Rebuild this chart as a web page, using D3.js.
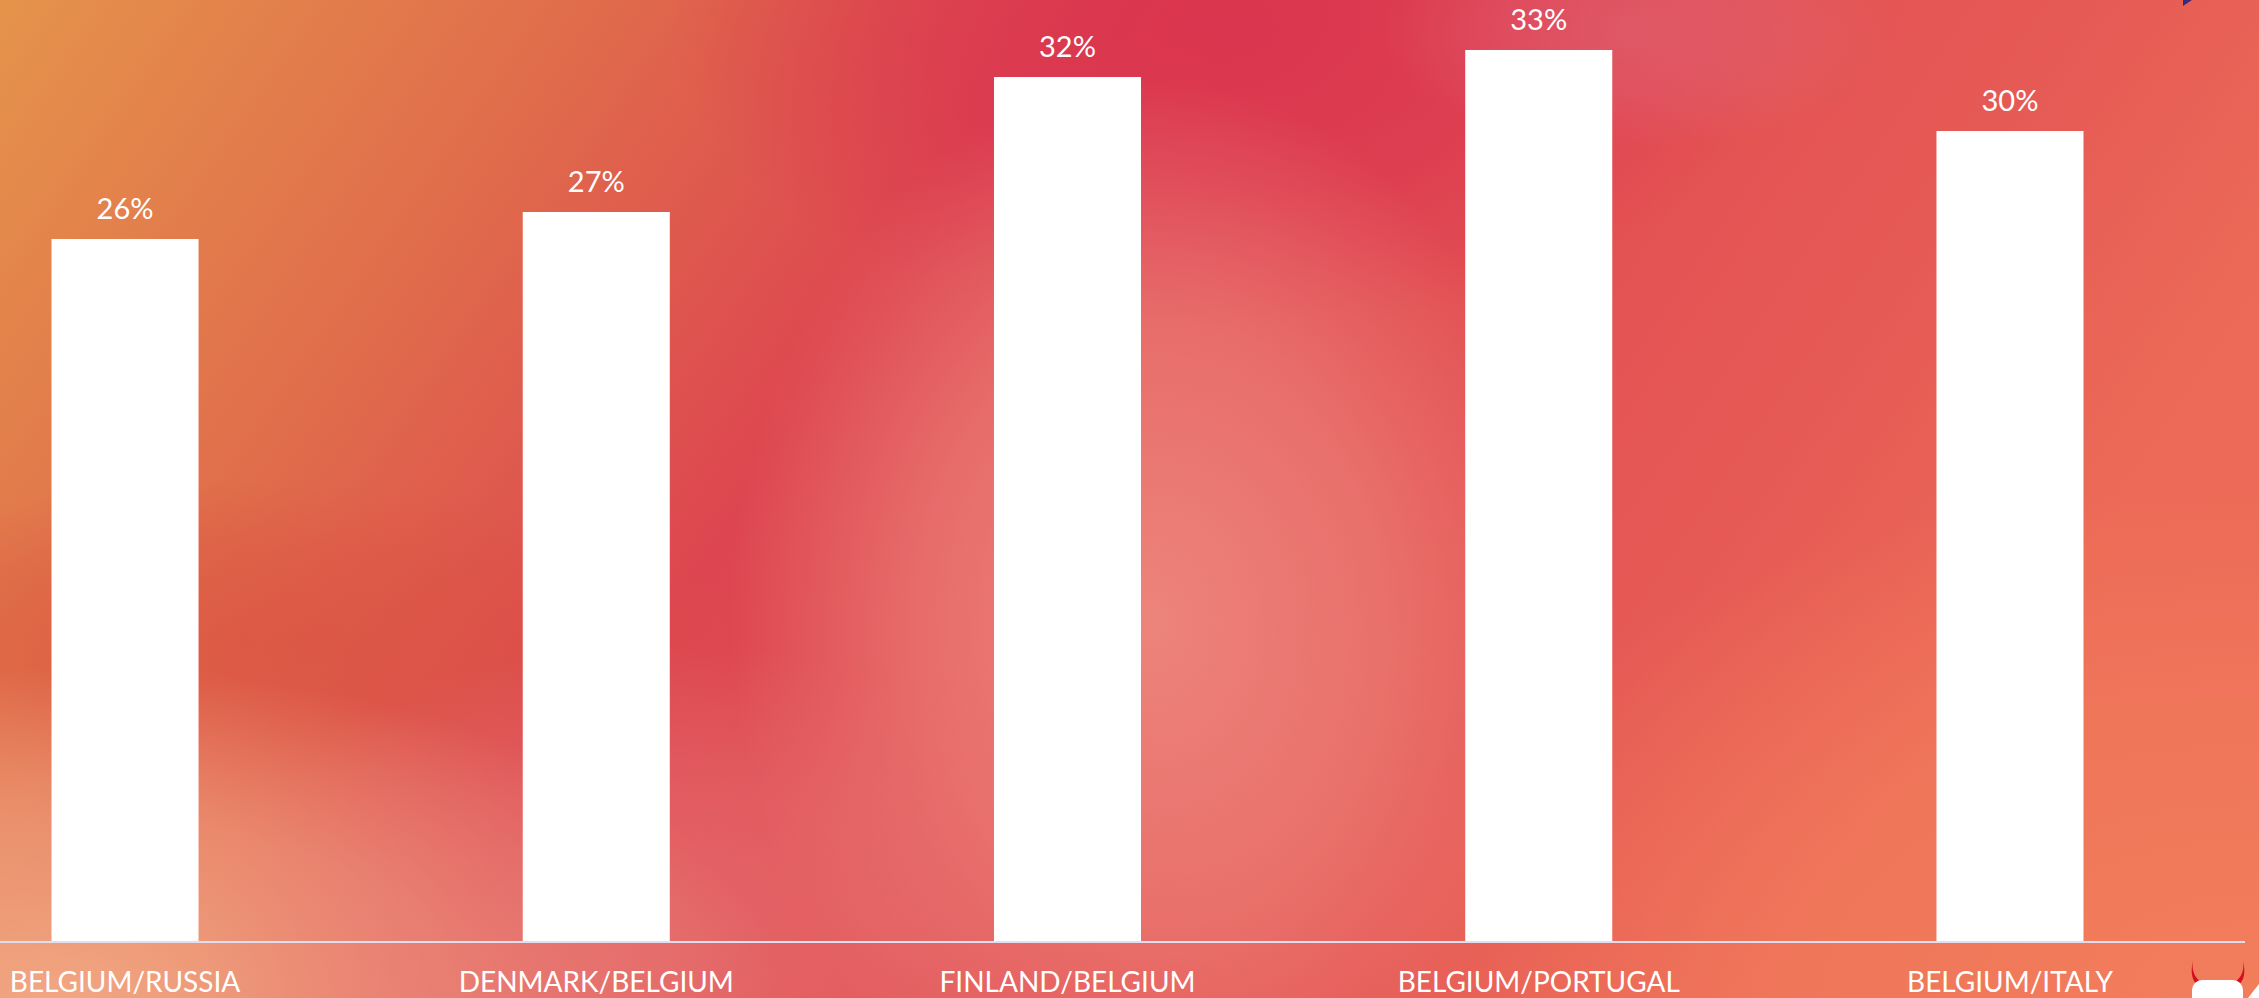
<!DOCTYPE html>
<html>
<head>
<meta charset="utf-8">
<script src="https://cdn.jsdelivr.net/npm/d3@7/dist/d3.min.js"></script>
<style>
  html, body { margin: 0; padding: 0; overflow: hidden; background: #e25a52; }
  svg { display: block; }
  text { font-family: Lato, "Open Sans", sans-serif; }
</style>
</head>
<body>
<svg id="chart" width="2259" height="998"></svg>
<script>
// Share of matches per pairing
const categories = ["BELGIUM/RUSSIA", "DENMARK/BELGIUM", "FINLAND/BELGIUM", "BELGIUM/PORTUGAL", "BELGIUM/ITALY"];
const shares = [0.26, 0.27, 0.32, 0.33, 0.30];

const W = 2259, H = 998;
const baseline = 941;
const svg = d3.select("#chart");
const defs = svg.append("defs");

// ---- warm gradient backdrop ----
const base = defs.append("linearGradient").attr("id", "bg-base")
  .attr("x1", 0).attr("y1", 0).attr("x2", 1).attr("y2", 0.3);
[["0", "#e5934b"], ["0.24", "#e06c4b"], ["0.44", "#dd4650"], ["0.62", "#e14c52"], ["0.85", "#e65a55"], ["1", "#ec6a57"]]
  .forEach(([o, c]) => base.append("stop").attr("offset", o).attr("stop-color", c));
svg.append("rect").attr("width", W).attr("height", H).attr("fill", "url(#bg-base)");

function glow(id, cx, cy, rx, ry, color, op) {
  const g = defs.append("radialGradient").attr("id", id)
    .attr("gradientUnits", "userSpaceOnUse")
    .attr("cx", 0).attr("cy", 0).attr("r", 1)
    .attr("gradientTransform", `translate(${cx},${cy}) scale(${rx},${ry})`);
  g.append("stop").attr("offset", 0).attr("stop-color", color).attr("stop-opacity", op);
  g.append("stop").attr("offset", 0.55).attr("stop-color", color).attr("stop-opacity", op * 0.6);
  g.append("stop").attr("offset", 1).attr("stop-color", color).attr("stop-opacity", 0);
  svg.append("rect").attr("width", W).attr("height", H).attr("fill", `url(#${id})`);
}
glow("g-left", 250, 640, 500, 160, "#d9503f", 0.55);
glow("g-crimson", 1230, 30, 560, 300, "#d92d4e", 0.7);
glow("g-pink", 1150, 620, 420, 540, "#ee8a80", 0.9);
glow("g-peach", 60, 998, 720, 330, "#f2aa84", 0.95);
glow("g-mid", 650, 940, 450, 300, "#e77a78", 0.6);
glow("g-coral", 2259, 998, 900, 520, "#f4845d", 0.75);
glow("g-rose", 1640, 30, 260, 120, "#e06474", 0.6);

// ---- scales ----
const x = d3.scaleBand()
  .domain(categories)
  .range([-110.6, 2245.6])
  .paddingInner(0.688)
  .paddingOuter(0.344);

const y = d3.scaleLinear()
  .domain([0, 0.35])
  .range([baseline, baseline - 0.35 * 2700]);

const pct = d3.format(".0%");

// ---- bars ----
svg.append("g").selectAll("rect")
  .data(categories)
  .join("rect")
  .attr("x", d => x(d))
  .attr("width", x.bandwidth())
  .attr("y", (d, i) => y(shares[i]))
  .attr("height", (d, i) => y(0) - y(shares[i]))
  .attr("fill", "#ffffff");

// ---- value labels ----
svg.append("g").selectAll("text")
  .data(categories)
  .join("text")
  .attr("x", d => x(d) + x.bandwidth() / 2)
  .attr("y", (d, i) => y(shares[i]) - 20)
  .attr("text-anchor", "middle")
  .attr("font-size", 29)
  .attr("fill", "#ffffff")
  .text((d, i) => pct(shares[i]));

// ---- category axis ----
const axis = svg.append("g")
  .attr("transform", `translate(0,${baseline})`)
  .call(d3.axisBottom(x).tickSize(0).tickPadding(31));
axis.select(".domain")
  .attr("d", `M0,1H2245`)
  .attr("stroke", "#e2def2")
  .attr("stroke-width", 2.2);
axis.selectAll(".tick text")
  .attr("font-family", "Lato, 'Open Sans', sans-serif")
  .attr("font-size", 28)
  .attr("fill", "#ffffff")
  .attr("dy", "0.71em");

// ---- corner badges ----
svg.append("path")
  .attr("d", "M2183,0L2192,0L2183,6Z")
  .attr("fill", "#3b2a78");

const badge = svg.append("g");
badge.append("path")
  .attr("d", "M2193,961 C2191,972 2196,981 2206,984 L2199,986 C2192,982 2190,972 2193,961Z")
  .attr("fill", "#d3101e");
badge.append("path")
  .attr("d", "M2243,961 C2245,972 2240,981 2230,984 L2237,986 C2244,982 2246,972 2243,961Z")
  .attr("fill", "#d3101e");
badge.append("rect")
  .attr("x", 2192).attr("y", 980).attr("width", 51).attr("height", 40).attr("rx", 10)
  .attr("fill", "#ffffff");
badge.append("path")
  .attr("d", "M2259,984L2259,998L2248,998Z")
  .attr("fill", "#ffffff");
</script>
</body>
</html>
